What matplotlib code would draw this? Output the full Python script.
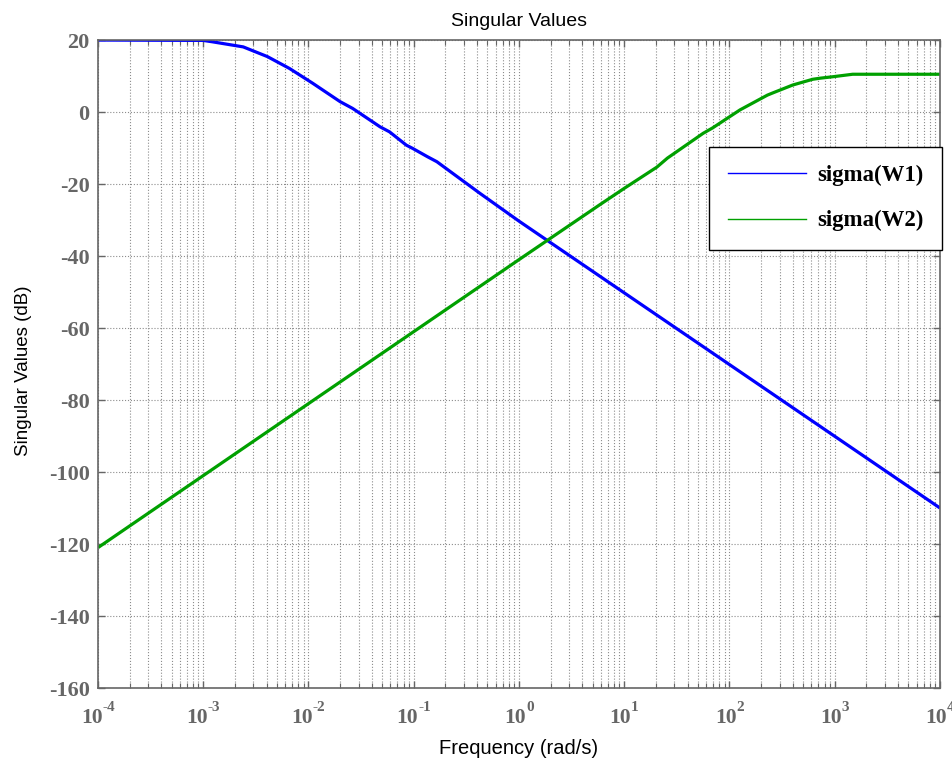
import matplotlib
matplotlib.use("Agg")
import matplotlib.pyplot as plt
from matplotlib.ticker import LogLocator, FixedLocator, NullFormatter
from matplotlib.lines import Line2D

# values (log10 of frequency, dB)
w1_logw = [-4.0, -3.0, -2.91, -2.62, -2.39, -2.18, -1.96, -1.70, -1.58, -1.32,
           -1.23, -1.07, -1.01, -0.87, -0.78, -0.37, 0.0, 4.0]
w1_db = [20.0, 19.9, 19.5, 18.1, 15.4, 12.1, 8.0, 2.9, 1.0, -4.1,
         -5.5, -9.2, -10.1, -12.4, -13.8, -22.6, -30.3, -110.0]

w2_logw = [-4.0, -3.0, -2.0, -1.0, 0.0, 0.77, 1.0, 1.31, 1.41, 1.75, 1.84,
           2.10, 2.36, 2.41, 2.60, 2.79, 2.86, 2.98, 3.17, 4.0]
w2_db = [-121.0, -101.0, -81.0, -61.0, -41.0, -25.7, -21.2, -15.3, -12.8, -5.9, -4.4,
         0.6, 4.7, 5.3, 7.5, 9.1, 9.4, 9.8, 10.5, 10.5]

y_ticks = [20, 0, -20, -40, -60, -80, -100, -120, -140, -160]
x_exps = [-4, -3, -2, -1, 0, 1, 2, 3, 4]
series_names = ["sigma(W1)", "sigma(W2)"]

blue = "#0000ff"
green = "#00a000"
axis_gray = "#666666"
serif_bold = {"family": "Liberation Serif", "weight": "bold"}

fig = plt.figure(figsize=(9.52, 7.6), dpi=100)
ax = fig.add_axes([0.1029, 0.0947, 0.8845, 0.8526])

w1 = [10 ** v for v in w1_logw]
w2 = [10 ** v for v in w2_logw]
ax.plot(w1, w1_db, color=blue, lw=2.3, solid_capstyle="butt")
ax.plot(w2, w2_db, color=green, lw=2.3, solid_capstyle="butt")

ax.set_xscale("log")
ax.set_xlim(1e-4, 1e4)
ax.set_ylim(-160, 20)

ax.xaxis.set_major_locator(FixedLocator([10.0 ** e for e in x_exps]))
ax.xaxis.set_major_formatter(NullFormatter())
ax.xaxis.set_minor_locator(LogLocator(base=10, subs=range(2, 10), numticks=100))
ax.xaxis.set_minor_formatter(NullFormatter())
ax.set_yticks(y_ticks)
ax.set_yticklabels([str(v) for v in y_ticks])

ax.grid(True, which="major", axis="both", linestyle=":", color="#8c8c8c", lw=0.8)
ax.grid(True, which="minor", axis="x", linestyle=":", color="#8c8c8c", lw=0.8)

ax.tick_params(which="major", direction="in", length=5, width=1, color=axis_gray,
               top=True, right=True, labelcolor=axis_gray, labelsize=16)
ax.tick_params(which="minor", direction="in", length=3.5, width=0.8, color=axis_gray,
               top=True, bottom=True)
ax.tick_params(axis="y", which="major", pad=6)
for lbl in ax.get_yticklabels():
    lbl.set_fontfamily("Liberation Serif")
    lbl.set_fontweight("bold")

for sp in ax.spines.values():
    sp.set_color(axis_gray)
    sp.set_linewidth(1.2)

# x tick labels drawn as "10" with a raised exponent, MATLAB style
renderer = fig.canvas.get_renderer()
for e in x_exps:
    base = ax.annotate("10", xy=(10.0 ** e, 0), xycoords=("data", "axes fraction"),
                       xytext=(0, -25.2), textcoords="offset points",
                       ha="right", va="baseline", fontsize=15.5, color=axis_gray, **serif_bold)
    expo = ax.annotate(str(e), xy=(10.0 ** e, 0), xycoords=("data", "axes fraction"),
                       xytext=(0, -16.6), textcoords="offset points",
                       ha="left", va="baseline", fontsize=11, color=axis_gray, **serif_bold)
    wb = base.get_window_extent(renderer).width * 72 / fig.dpi
    we = expo.get_window_extent(renderer).width * 72 / fig.dpi
    dx = (wb - we) / 2
    base.set_position((dx, -25.2))
    expo.set_position((dx, -16.6))

ax.set_title("Singular Values", fontfamily="Liberation Sans", fontsize=14, pad=10)
ax.set_xlabel("Frequency (rad/s)", fontfamily="Liberation Sans", fontsize=14.5)
ax.set_ylabel("Singular Values (dB)", fontfamily="Liberation Sans", fontsize=13.5)
ax.xaxis.set_label_coords(0.5, -0.079)
ax.yaxis.set_label_coords(-0.078, 0.49)

handles = [Line2D([], [], color=blue, lw=1.0), Line2D([], [], color=green, lw=1.0)]
leg = ax.legend(handles, series_names, loc="upper right", bbox_to_anchor=(1.002, 0.835),
                prop={"family": "Liberation Serif", "weight": "bold", "size": 16.4},
                fancybox=False, framealpha=1, edgecolor="black", handlelength=3.45,
                handletextpad=0.48, labelspacing=1.05, borderpad=0.8, borderaxespad=0)
leg.get_frame().set_linewidth(1.0)

fig.savefig("out.png", dpi=100)
